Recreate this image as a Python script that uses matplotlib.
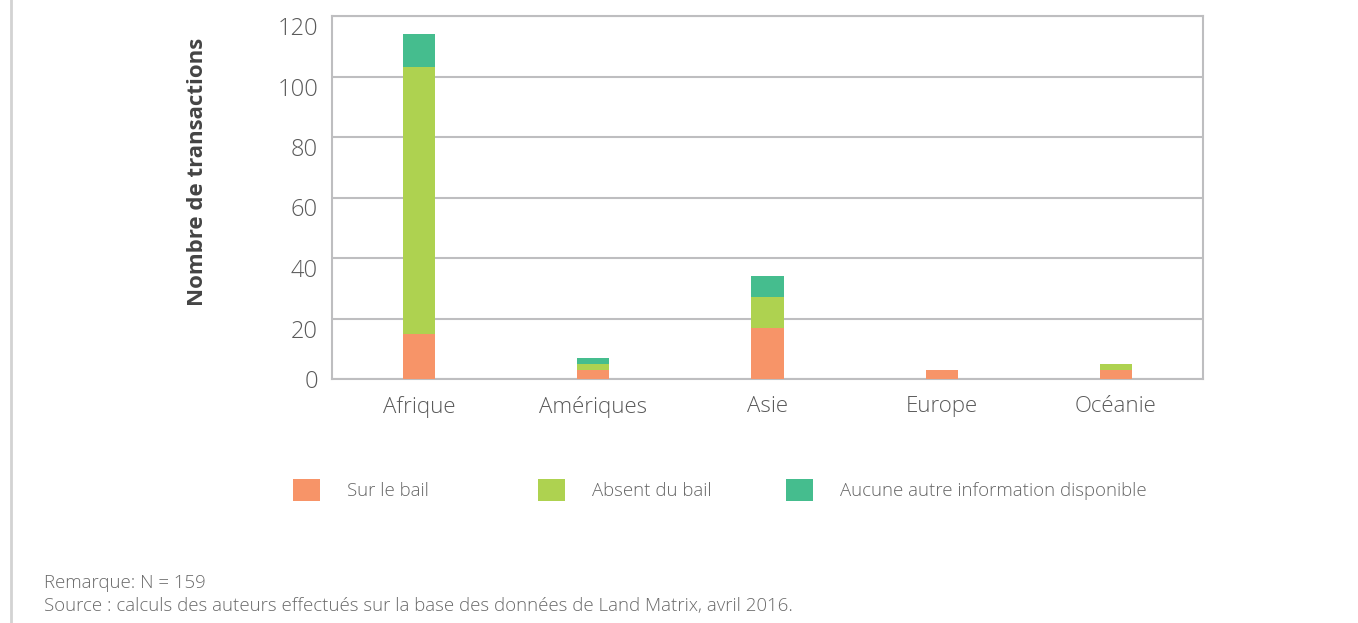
import matplotlib
matplotlib.use("Agg")
import matplotlib.pyplot as plt
import matplotlib.transforms as mtransforms
from matplotlib.lines import Line2D
from matplotlib.patches import Patch
import numpy as np

categories = ["Afrique", "Amériques", "Asie", "Europe", "Océanie"]
sur_le_bail = [15, 3, 17, 3, 3]
absent_du_bail = [88, 2, 10, 0, 2]
aucune_info = [11, 2, 7, 0, 0]
series_labels = ["Sur le bail", "Absent du bail", "Aucune autre information disponible"]
yticks = [0, 20, 40, 60, 80, 100, 120]
note_lines = ["Remarque: N = 159",
              "Source : calculs des auteurs effectués sur la base des données de Land Matrix, avril 2016."]

colors = ["#F79468", "#AED250", "#45BD8E"]
grid_c = "#BEBEC0"

plt.rcParams['font.family'] = ['Open Sans', 'DejaVu Sans']

W, H = 1358, 623
fig = plt.figure(figsize=(W / 100, H / 100), dpi=100)
ax = fig.add_axes([332 / W, 1 - 379 / H, (1203 - 332) / W, (379 - 16) / H])

x = np.arange(len(categories))
bw = 0.185
b1 = np.array(sur_le_bail)
b2 = b1 + np.array(absent_du_bail)
ax.bar(x, sur_le_bail, bw, color=colors[0], zorder=3)
ax.bar(x, absent_du_bail, bw, bottom=b1, color=colors[1], zorder=3)
ax.bar(x, aucune_info, bw, bottom=b2, color=colors[2], zorder=3)

ax.set_xlim(-0.5, len(categories) - 0.5)
ax.set_ylim(0, 120)
ax.set_yticks(yticks)
ax.set_yticklabels([str(v) for v in yticks], fontsize=17, color="#5a5a5a", fontweight="light")
ax.set_xticks(x)
ax.set_xticklabels(categories, fontsize=16, color="#5a5a5a", fontweight="light")
ax.tick_params(axis="both", length=0)
ax.tick_params(axis="y", pad=10)
ax.tick_params(axis="x", pad=12)
ax.yaxis.grid(True, color=grid_c, linewidth=1.5, zorder=0)
ax.set_axisbelow(True)
for s in ax.spines.values():
    s.set_color(grid_c)
    s.set_linewidth(1.5)

# in the reference, the y labels (except 0) sit slightly below their gridlines
shift = mtransforms.ScaledTranslation(0, -10 / 100, fig.dpi_scale_trans)
for lab in ax.get_yticklabels()[1:]:
    lab.set_transform(lab.get_transform() + shift)

fig.text(197 / W, 1 - 172 / H, "Nombre de transactions", rotation=90,
         fontsize=16, fontweight="bold", color="#444444", ha="center", va="center")

# legend entries
sq_x = [293, 538, 786]
for i in range(3):
    h = Patch(facecolor=colors[i], edgecolor="none")
    leg = fig.legend([h], [series_labels[i]], loc="center left",
                     bbox_to_anchor=(sq_x[i] / W, 1 - 490 / H), frameon=False,
                     handlelength=1.45, handleheight=1.4,
                     handletextpad=1.45, borderpad=0, borderaxespad=0,
                     prop={"weight": "light", "size": 13.4})
    for t in leg.get_texts():
        t.set_color("#666666")

fig.text(44 / W, 1 - 583 / H, note_lines[0], fontsize=13.4, color="#6a6a6a",
         fontweight="light", ha="left", va="center")
fig.text(44 / W, 1 - 606 / H, note_lines[1], fontsize=13.4, color="#6a6a6a",
         fontweight="light", ha="left", va="center")

fig.add_artist(Line2D([11 / W, 11 / W], [0, 1], color="#D3D3D3", linewidth=2))

fig.savefig("out.png", dpi=100)
